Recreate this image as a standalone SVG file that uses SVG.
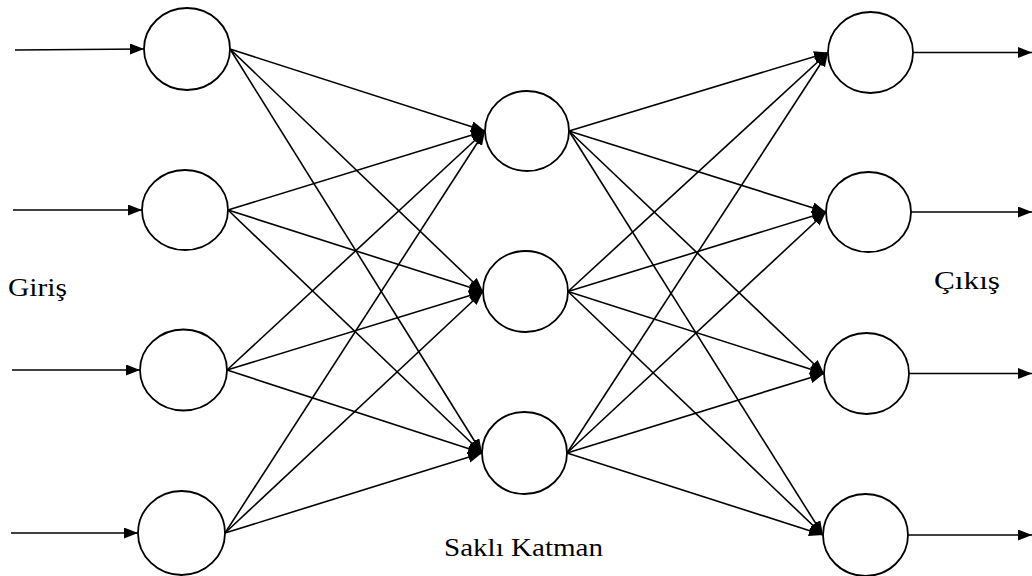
<svg xmlns="http://www.w3.org/2000/svg" width="1032" height="576" viewBox="0 0 1032 576">
<style>
.node{fill:#fff;stroke:#000;stroke-width:1.8}
.edge{stroke:#000;stroke-width:1.6;fill:none;marker-end:url(#arr)}
.lbl{font-family:"Liberation Serif","Times New Roman",serif;font-size:26px;fill:#000}
</style>
<defs>
<marker id="arr" markerUnits="userSpaceOnUse" markerWidth="15" markerHeight="12" refX="14" refY="5.5" orient="auto">
<path d="M0,0 L14,5.5 L0,11 z" fill="#000"/>
</marker>
</defs>
<rect width="1032" height="576" fill="#fff"/>
<g id="connectors">
<line class="edge" x1="15" y1="50" x2="144" y2="49"/>
<line class="edge" x1="13" y1="210" x2="142" y2="210"/>
<line class="edge" x1="12" y1="370" x2="140" y2="370"/>
<line class="edge" x1="11" y1="533" x2="138" y2="533"/>
<line class="edge" x1="230" y1="49" x2="485" y2="131"/>
<line class="edge" x1="230" y1="49" x2="483" y2="291.5"/>
<line class="edge" x1="230" y1="49" x2="482" y2="453"/>
<line class="edge" x1="228" y1="210" x2="485" y2="131"/>
<line class="edge" x1="228" y1="210" x2="483" y2="291.5"/>
<line class="edge" x1="228" y1="210" x2="482" y2="453"/>
<line class="edge" x1="227" y1="370" x2="485" y2="131"/>
<line class="edge" x1="227" y1="370" x2="483" y2="291.5"/>
<line class="edge" x1="227" y1="370" x2="482" y2="453"/>
<line class="edge" x1="225" y1="533" x2="485" y2="131"/>
<line class="edge" x1="225" y1="533" x2="483" y2="291.5"/>
<line class="edge" x1="225" y1="533" x2="482" y2="453"/>
<line class="edge" x1="569" y1="131" x2="828" y2="52.5"/>
<line class="edge" x1="569" y1="131" x2="826" y2="212"/>
<line class="edge" x1="569" y1="131" x2="824" y2="373.5"/>
<line class="edge" x1="569" y1="131" x2="823" y2="535"/>
<line class="edge" x1="568" y1="291.5" x2="828" y2="52.5"/>
<line class="edge" x1="568" y1="291.5" x2="826" y2="212"/>
<line class="edge" x1="568" y1="291.5" x2="824" y2="373.5"/>
<line class="edge" x1="568" y1="291.5" x2="823" y2="535"/>
<line class="edge" x1="567" y1="453" x2="828" y2="52.5"/>
<line class="edge" x1="567" y1="453" x2="826" y2="212"/>
<line class="edge" x1="567" y1="453" x2="824" y2="373.5"/>
<line class="edge" x1="567" y1="453" x2="823" y2="535"/>
<line class="edge" x1="913" y1="52.5" x2="1032" y2="52.5"/>
<line class="edge" x1="911" y1="212" x2="1032" y2="212"/>
<line class="edge" x1="909" y1="373.5" x2="1032" y2="373.5"/>
<line class="edge" x1="908" y1="535" x2="1032" y2="535"/>
</g>
<g id="input1"><ellipse class="node" cx="187" cy="49" rx="43" ry="41"/></g>
<g id="input2"><ellipse class="node" cx="185" cy="210" rx="43" ry="40"/></g>
<g id="input3"><ellipse class="node" cx="183.5" cy="370" rx="43.5" ry="40.5"/></g>
<g id="input4"><ellipse class="node" cx="181.5" cy="533" rx="43.5" ry="42"/></g>
<g id="hidden1"><ellipse class="node" cx="527" cy="131" rx="42" ry="40"/></g>
<g id="hidden2"><ellipse class="node" cx="525.5" cy="291.5" rx="42.5" ry="40.5"/></g>
<g id="hidden3"><ellipse class="node" cx="524.5" cy="453" rx="42.5" ry="41"/></g>
<g id="output1"><ellipse class="node" cx="870.5" cy="52.5" rx="42.5" ry="40.5"/></g>
<g id="output2"><ellipse class="node" cx="868.5" cy="212" rx="42.5" ry="40"/></g>
<g id="output3"><ellipse class="node" cx="866.5" cy="373.5" rx="42.5" ry="40.5"/></g>
<g id="output4"><ellipse class="node" cx="865.5" cy="535" rx="42.5" ry="41"/></g>
<g id="labels">
<text class="lbl" x="8" y="296" textLength="59" lengthAdjust="spacingAndGlyphs">Giriş</text>
<text class="lbl" x="934" y="289" textLength="66" lengthAdjust="spacingAndGlyphs">Çıkış</text>
<text class="lbl" x="444" y="556" textLength="159" lengthAdjust="spacingAndGlyphs">Saklı Katman</text>
</g>
</svg>
